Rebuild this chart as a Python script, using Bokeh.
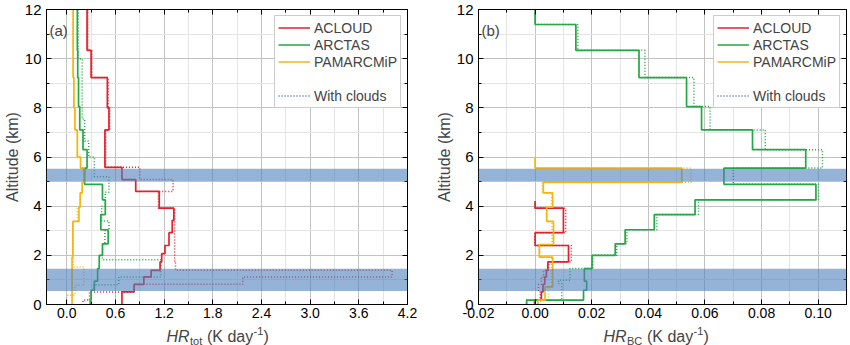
from bokeh.plotting import figure
from bokeh.models import (Range1d, FixedTicker, LinearAxis, Legend, LegendItem,
                          BoxAnnotation, Label, PrintfTickFormatter)
from bokeh.layouts import row, column
from bokeh.embed import file_html
from bokeh.resources import INLINE

FONT = "Liberation Sans"
RED = "#E5202A"
GREEN = "#22A844"
YELLOW = "#F5B70F"
CLOUD_LEG = "#44618F"
BAND = "#4F81BD"
DOT = "1 2"

# ---------------- data ----------------
series_names = ["ACLOUD", "ARCTAS", "PAMARCMiP"]

# cloud layers (km)
cloud_bottom = [0.55, 5.0]
cloud_top = [1.45, 5.52]

# ---- panel (a): HR_tot (K/day); layer edges from top to bottom (km)
acloud_edges_a = [12, 10.34, 9.23, 8.0, 7.1, 5.58, 5.08, 4.6, 3.92, 3.42, 2.92, 2.4, 2.07, 1.73, 1.39, 1.12, 0.82, 0.51, 0.18, 0]
acloud_tot_clear = [0.25, 0.30, 0.50, 0.52, 0.47, 0.68, 0.85, 1.14, 1.32, 1.30, 1.26, 1.21, 1.17, 1.15, 1.04, 0.95, 0.83, 0.68, 0.68]
acloud_tot_cloud = [0.26, 0.31, 0.51, 0.53, 0.48, 0.90, 1.31, 1.13, 1.33, 1.33, 1.33, 1.33, 1.33, 1.34, 4.01, 2.17, 0.83, 0.28, 0.20]

arctas_edges = [12, 11.39, 10.34, 9.23, 8.05, 7.1, 6.3, 5.55, 4.89, 4.26, 3.66, 3.04, 2.47, 2.0, 1.46, 0.95, 0.58, 0.18, 0]
arctas_tot_clear = [0.13, 0.13, 0.135, 0.145, 0.16, 0.20, 0.25, 0.22, 0.44, 0.475, 0.42, 0.51, 0.44, 0.40, 0.38, 0.34, 0.30, 0.29]
arctas_cloud_edges_a = [12, 10.0, 7.55, 6.65, 6.0, 5.2, 4.57, 4.0, 3.4, 3.0, 2.47, 1.82, 1.12, 0.8, 0.58, 0.18, 0]
arctas_tot_cloud = [0.14, 0.19, 0.22, 0.27, 0.34, 0.52, 0.475, 0.43, 0.52, 0.47, 0.44, 1.16, 0.64, 0.33, 0.30, 0.29]

pamarc_edges_a = [12, 9.23, 8.0, 7.1, 6.0, 5.55, 4.97, 4.54, 3.96, 3.38, 1.93, 0]
pamarc_tot_clear = [0.078, 0.088, 0.10, 0.13, 0.17, 0.21, 0.19, 0.165, 0.15, 0.075, 0.065]
pamarc_cloud_edges_a = [12, 9.23, 8.0, 7.1, 6.0, 5.55, 4.97, 4.54, 3.96, 3.38, 1.53, 0.78, 0.38, 0]
pamarc_tot_cloud = [0.078, 0.088, 0.10, 0.13, 0.17, 0.21, 0.19, 0.165, 0.13, 0.08, 0.21, 0.10, 0.0]

# ---- panel (b): HR_BC (K/day)
acloud_edges_b = [4.2, 3.92, 2.92, 2.4, 1.73, 1.39, 1.12, 0.82, 0.51, 0.18, 0]
acloud_bc_clear = [0.0, 0.0100, 0.0, 0.0118, 0.0045, 0.0040, 0.0034, 0.0028, 0.0022, -0.0002]
acloud_bc_cloud = [0.0, 0.0108, 0.0, 0.0128, 0.0048, 0.0030, 0.0022, 0.0012, 0.0018, 0.0]

arctas_bc_clear = [0.0, 0.0144, 0.0367, 0.0535, 0.0588, 0.0768, 0.0956, 0.0667, 0.0992, 0.0565, 0.0421, 0.0318, 0.0283, 0.0201, 0.0174, 0.0182, 0.0171, -0.0030]
arctas_cloud_edges_b = [12, 11.39, 10.34, 9.23, 8.05, 7.1, 6.3, 5.55, 4.89, 4.26, 3.66, 3.04, 2.47, 2.0, 1.46, 0.99, 0.85, 0.18, 0]
arctas_bc_cloud = [0.0, 0.0151, 0.0388, 0.0561, 0.0618, 0.0813, 0.1015, 0.0700, 0.1001, 0.0577, 0.0430, 0.0324, 0.0288, 0.0204, 0.0123, 0.0082, 0.0094, -0.0030]

pamarc_edges_b = [5.98, 5.55, 4.97, 4.54, 3.96, 3.38, 2.44, 1.93, 0.72, 0.18, 0]
pamarc_bc_clear = [0.0, 0.0518, 0.0029, 0.0062, 0.0041, 0.0065, 0.0015, 0.0062, 0.0035, 0.0010]
pamarc_bc_cloud = [0.0, 0.0551, 0.0025, 0.0058, 0.0041, 0.0060, 0.0015, 0.0059, 0.0047, 0.0020]

# ticks
y_ticks = [0, 2, 4, 6, 8, 10, 12]
y_minor = [1, 3, 5, 7, 9, 11]
xa_ticks = [0.0, 0.6, 1.2, 1.8, 2.4, 3.0, 3.6, 4.2]
xa_minor = [0.3, 0.9, 1.5, 2.1, 2.7, 3.3, 3.9]
xb_ticks = [-0.02, 0.0, 0.02, 0.04, 0.06, 0.08, 0.10]
xb_minor = [-0.01, 0.01, 0.03, 0.05, 0.07, 0.09]

MAIN_H = 323
LAB_H = 345 - MAIN_H


def profile(edges, vals):
    xs, ys = [], []
    for i, v in enumerate(vals):
        xs += [v, v]
        ys += [edges[i], edges[i + 1]]
    return xs, ys


def style_axis(ax, labels=True, size="15px"):
    ax.major_tick_in = 5
    ax.major_tick_out = 0
    ax.minor_tick_in = 3
    ax.minor_tick_out = 0
    ax.axis_line_color = "black"
    ax.major_tick_line_color = "black"
    ax.minor_tick_line_color = "black"
    if labels:
        ax.major_label_text_font = FONT
        ax.major_label_text_font_size = size
        ax.major_label_text_color = "black"
    else:
        ax.major_label_text_font_size = "0px"
        ax.major_label_text_alpha = 0
        ax.major_label_standoff = 0


def make_panel(xr, xt, xm, fmt, bl, br, curves, tag):
    p = figure(width=425, height=MAIN_H, x_range=Range1d(*xr), y_range=Range1d(0, 12),
               output_backend="svg", toolbar_location=None,
               min_border_left=bl, min_border_right=br, min_border_top=9,
               min_border_bottom=MAIN_H - 304)
    p.outline_line_color = "black"
    p.outline_line_alpha = 1
    xticker = FixedTicker(ticks=xt, minor_ticks=xm)
    yticker = FixedTicker(ticks=y_ticks, minor_ticks=y_minor)
    xa = p.below[0]
    ya = p.left[0]
    xa.ticker = xticker
    ya.ticker = yticker
    xa.formatter = PrintfTickFormatter(format=fmt)
    style_axis(xa, size="14px")
    style_axis(ya, size="15px")
    xa.major_label_standoff = 3
    ya.major_label_standoff = 5
    ya.axis_label = "Altitude (km)"
    ya.axis_label_text_font = FONT
    ya.axis_label_text_font_size = "16px"
    ya.axis_label_text_font_style = "normal"
    ya.axis_label_standoff = 1
    ax_top = LinearAxis(ticker=xticker)
    style_axis(ax_top, labels=False)
    p.add_layout(ax_top, "above")
    ax_right = LinearAxis(ticker=yticker)
    style_axis(ax_right, labels=False)
    p.add_layout(ax_right, "right")

    for g in (p.xgrid[0], p.ygrid[0]):
        g.grid_line_color = "#c2c2c2"
        g.grid_line_width = 1
        g.minor_grid_line_color = "#e4e4e4"
        g.minor_grid_line_width = 1
    p.xgrid[0].ticker = xticker
    p.ygrid[0].ticker = yticker

    renderers = []
    for (e_clear, v_clear, e_cloud, v_cloud, col) in curves:
        xs, ys = profile(e_cloud, v_cloud)
        p.line(xs, ys, line_color=col, line_width=1.5, line_dash=DOT)
    for (e_clear, v_clear, e_cloud, v_cloud, col) in curves:
        xs, ys = profile(e_clear, v_clear)
        renderers.append(p.line(xs, ys, line_color=col, line_width=1.7))

    for b, t in zip(cloud_bottom, cloud_top):
        p.add_layout(BoxAnnotation(bottom=b, top=t, fill_color=BAND, fill_alpha=0.6, line_alpha=0))

    # legend-only renderers (hidden in the plot area)
    xs, ys = profile(curves[1][2], curves[1][3])
    blank = p.line(xs, ys, line_alpha=0, visible=False)
    dots = p.line(xs, ys, line_color=CLOUD_LEG, line_width=1.5, line_dash=DOT, visible=False)
    items = [LegendItem(label=n, renderers=[r]) for n, r in zip(series_names, renderers)]
    items.append(LegendItem(label=" ", renderers=[blank]))
    items.append(LegendItem(label="With clouds", renderers=[dots]))
    leg = Legend(items=items, location="top_right")
    leg.label_text_font = FONT
    leg.label_text_font_size = "14px"
    leg.glyph_width = 32
    leg.glyph_height = 17
    leg.label_height = 17
    leg.spacing = 0
    leg.padding = 3
    leg.margin = 6
    leg.label_standoff = 4
    leg.border_line_color = "#9a9a9a"
    leg.border_line_width = 1.2
    leg.background_fill_alpha = 1
    p.add_layout(leg)

    p.add_layout(Label(x=3, y=274, x_units="screen", y_units="screen", text=tag,
                       text_font=FONT, text_font_size="15px", text_baseline="alphabetic"))
    return p


def make_xlabel(sub, sub_w, lab_x):
    f = figure(width=425, height=LAB_H, x_range=Range1d(0, 425), y_range=Range1d(0, LAB_H),
               output_backend="svg", toolbar_location=None,
               min_border_left=0, min_border_right=0, min_border_top=0, min_border_bottom=0)
    f.axis.visible = False
    f.grid.visible = False
    f.outline_line_color = None
    base = 9
    kw = dict(x_units="screen", y_units="screen", text_font=FONT, text_baseline="alphabetic")
    f.add_layout(Label(x=lab_x, y=base, text="HR", text_font_size="16px",
                       text_font_style="italic", **kw))
    f.add_layout(Label(x=lab_x + 23.5, y=base - 4, text=sub, text_font_size="11px", **kw))
    x2 = lab_x + 23.5 + sub_w + 4.5
    f.add_layout(Label(x=x2, y=base, text="(K day", text_font_size="16px", **kw))
    x3 = x2 + 46.5
    f.add_layout(Label(x=x3, y=base + 6, text="-1", text_font_size="11px", **kw))
    f.add_layout(Label(x=x3 + 10, y=base, text=")", text_font_size="16px", **kw))
    return f


curves_a = [
    (acloud_edges_a, acloud_tot_clear, acloud_edges_a, acloud_tot_cloud, RED),
    (arctas_edges, arctas_tot_clear, arctas_cloud_edges_a, arctas_tot_cloud, GREEN),
    (pamarc_edges_a, pamarc_tot_clear, pamarc_cloud_edges_a, pamarc_tot_cloud, YELLOW),
]
curves_b = [
    (acloud_edges_b, acloud_bc_clear, acloud_edges_b, acloud_bc_cloud, RED),
    (arctas_edges, arctas_bc_clear, arctas_cloud_edges_b, arctas_bc_cloud, GREEN),
    (pamarc_edges_b, pamarc_bc_clear, pamarc_edges_b, pamarc_bc_cloud, YELLOW),
]

pa = make_panel((-0.25, 4.2), xa_ticks, xa_minor, "%.1f", 40, 18, curves_a, "(a)")
pb = make_panel((-0.02, 0.11), xb_ticks, xb_minor, "%.2f", 53, 4, curves_b, "(b)")
la = make_xlabel("tot", 12.5, 166)
lb = make_xlabel("BC", 15.5, 178)

layout = column(row(pa, pb), row(la, lb))
open("out.html", "w").write(file_html(layout, INLINE))
